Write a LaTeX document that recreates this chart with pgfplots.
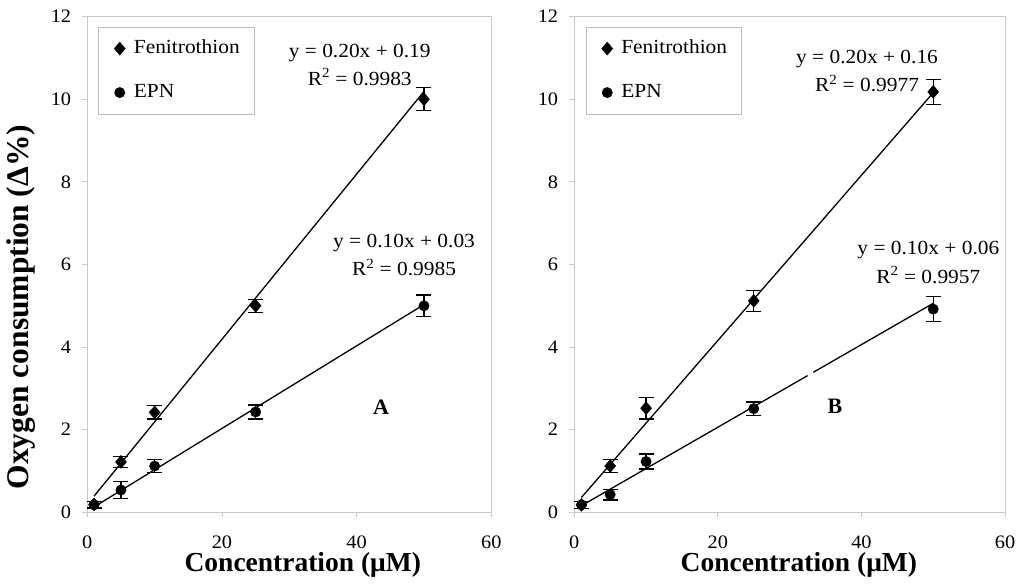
\documentclass[border=0pt]{standalone}
\usepackage{pgfplots}
\usepackage{pgfplotstable}
\pgfplotsset{compat=1.18}
\usepackage{fontspec}
\setmainfont{Liberation Serif}[FakeStretch=1.07]
\newfontfamily\lblfont{Liberation Serif}
\definecolor{axgray}{RGB}{200,200,200}
\definecolor{leggray}{RGB}{190,190,190}

\pgfplotstableread{
x y e
1 0.19 0.08
5 1.22 0.13
10 2.42 0.16
25 5.00 0.16
50 10.00 0.28
}\fenA
\pgfplotstableread{
x y e
1 0.18 0.08
5 0.54 0.21
10 1.12 0.16
25 2.43 0.17
50 5.00 0.26
}\epnA
\pgfplotstableread{
x y e
1 0.18 0.08
5 1.12 0.16
10 2.52 0.26
25 5.12 0.25
50 10.18 0.30
}\fenB
\pgfplotstableread{
x y e
1 0.18 0.08
5 0.43 0.13
10 1.23 0.18
25 2.51 0.16
50 4.92 0.30
}\epnB

\tikzset{
  eqn/.style={anchor=base, inner sep=0pt, font=\fontsize{20}{24}\selectfont},
  axlbl/.style={anchor=base, inner sep=0pt, font=\lblfont\bfseries\fontsize{27.5}{32}\selectfont},
}

\pgfplotsset{
  panel/.style={
    scale only axis, height=495.6pt,
    xmin=0, xmax=60, ymin=0, ymax=12,
    xtick={0,20,40,60}, ytick={0,2,4,6,8,10,12},
    axis line style={axgray, line width=0.9pt},
    tick style={axgray, line width=0.9pt},
    tick align=outside, major tick length=5pt,
    xtick pos=bottom, ytick pos=left,
    /pgf/number format/assume math mode=true,
    ticklabel style={font=\fontsize{19}{22}\selectfont, text=black},
    xticklabel style={inner sep=0pt, text depth=0pt, yshift=-18pt},
    yticklabel style={inner sep=0pt, xshift=-11pt},
    clip=false,
    legend cell align=left,
    legend image code/.code={%
      \path (0pt,0pt) (12pt,0pt);
      \draw[mark repeat=1, mark phase=1, #1] plot coordinates {(6pt,0pt)};},
    legend style={draw=leggray, line width=0.8pt, anchor=north west,
      inner xsep=14.7pt, inner ysep=12.5pt, row sep=26pt,
      font=\fontsize{20}{24}\selectfont,
      nodes={inner sep=0pt, text height=14pt, text depth=4pt},
      /tikz/every odd column/.append style={column sep=7.7pt}},
  },
  datpts/.style={only marks, black,
    error bars/y dir=both, error bars/y explicit,
    error bars/error bar style={line width=1.2pt, black},
    error bars/error mark options={rotate=90, mark size=7.5pt, line width=1.2pt, black}},
  fitline/.style={black, line width=1.3pt, no marks, forget plot},
}

\begin{document}
\begin{tikzpicture}
\path[use as bounding box] (0,0) rectangle (1024pt,586pt);

% ---------------- Panel A ----------------
\begin{axis}[panel, width=404pt, at={(87.3pt,73.7pt)}, anchor=south west,
  legend style={at={(axis cs:1.63,11.758)}}]
\addplot[datpts, mark=diamond*, mark size=6.5pt, mark options={line width=0.4pt, xscale=1.13}]
  table[x=x, y=y, y error=e] {\fenA};
\addlegendentry{Fenitrothion}
\addplot[datpts, mark=*, mark size=5.2pt, mark options={line width=0.4pt}]
  table[x=x, y=y, y error=e] {\epnA};
\addlegendentry{EPN}
\addplot[fitline] coordinates {(1,0.39) (50,10.19)};
\addplot[fitline] coordinates {(1,0.13) (50,5.03)};
\node[eqn] at (axis cs:40.46,11.017) {y = 0.20x + 0.19};
\node[eqn] at (axis cs:40.46,10.334) {R\textsuperscript{2} = 0.9983};
\node[eqn] at (axis cs:47.04,6.416) {y = 0.10x + 0.03};
\node[eqn] at (axis cs:47.04,5.722) {R\textsuperscript{2} = 0.9985};
\node[anchor=base, font=\lblfont\bfseries\fontsize{22}{26}\selectfont] at (axis cs:43.62,2.38) {A};
\node[axlbl] at (axis cs:32.0,-1.438) {Concentration (μM)};
\node[anchor=base, inner sep=0pt, rotate=90, font=\lblfont\bfseries\fontsize{31.5}{35}\selectfont] at (axis cs:-8.76,4.97) {Oxygen consumption (Δ\%)};
\end{axis}

% ---------------- Panel B ----------------
\begin{axis}[panel, width=430.7pt, at={(574.3pt,73.7pt)}, anchor=south west,
  legend style={at={(axis cs:1.59,11.758)}}]
\addplot[datpts, mark=diamond*, mark size=6.5pt, mark options={line width=0.4pt, xscale=1.13}]
  table[x=x, y=y, y error=e] {\fenB};
\addlegendentry{Fenitrothion}
\addplot[datpts, mark=*, mark size=5.2pt, mark options={line width=0.4pt}]
  table[x=x, y=y, y error=e] {\epnB};
\addlegendentry{EPN}
\addplot[fitline] coordinates {(1,0.36) (50,10.16)};
\addplot[fitline] coordinates {(1,0.16) (32.5,3.31)};
\addplot[fitline] coordinates {(33.3,3.39) (50,5.06)};
\node[eqn] at (axis cs:40.78,10.87) {y = 0.20x + 0.16};
\node[eqn] at (axis cs:40.78,10.18) {R\textsuperscript{2} = 0.9977};
\node[eqn] at (axis cs:49.33,6.23) {y = 0.10x + 0.06};
\node[eqn] at (axis cs:49.33,5.545) {R\textsuperscript{2} = 0.9957};
\node[anchor=base, font=\lblfont\bfseries\fontsize{22}{26}\selectfont] at (axis cs:36.32,2.40) {B};
\node[axlbl] at (axis cs:31.28,-1.438) {Concentration (μM)};
\end{axis}
\end{tikzpicture}
\end{document}
